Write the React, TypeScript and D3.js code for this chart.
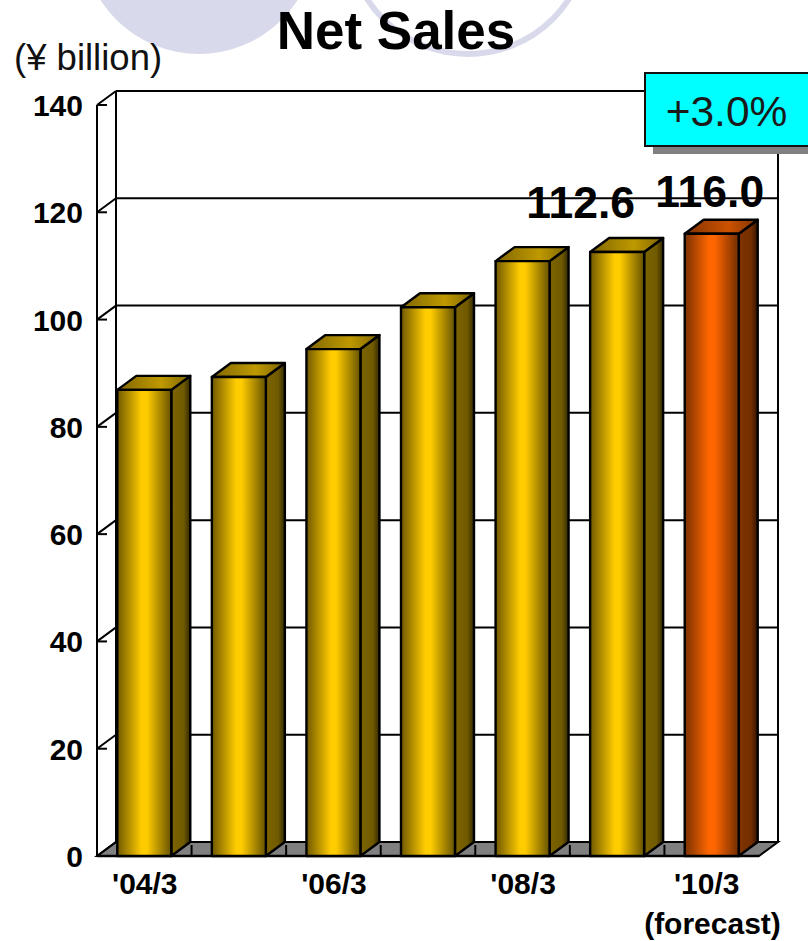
import React from "react";
import * as d3 from "d3";

const categories = ["'04/3", "'05/3", "'06/3", "'07/3", "'08/3", "'09/3", "'10/3"];
const axisLabels = ["'04/3", "'06/3", "'08/3", "'10/3"];
const netSales = [86.9, 89.3, 94.5, 102.3, 110.9, 112.6, 116.0];
const valueTicks = [0, 20, 40, 60, 80, 100, 120, 140];
const labelledYears = ["'09/3", "'10/3"];
const forecastYear = "'10/3";

const WIDTH = 808;
const HEIGHT = 941;
const FONT = "'Liberation Sans', Arial, sans-serif";
const DEPTH_X = 19;
const DEPTH_Y = -14;
const LAVENDER = "#d9d9ec";

const x = d3.scaleBand<string>().domain(categories).range([97, 759]).paddingInner(0.429).paddingOuter(0.2145);
const y = d3.scaleLinear().domain([0, 140]).range([856, 105]);
const step = x.step();

const poly = (pts: [number, number][]) => d3.line()(pts) + "Z";

type Ramp = { id: string; stops: [number, string][] };
const ramps: Ramp[] = [
  { id: "goldFront", stops: [[0, "#6f5800"], [0.45, "#ffcc00"], [0.55, "#ffcc00"], [1, "#665200"]] },
  { id: "goldSide", stops: [[0, "#7d6400"], [0.65, "#705a00"], [1, "#332900"]] },
  { id: "goldTop", stops: [[0, "#806600"], [0.6, "#bf9900"], [1, "#7d6400"]] },
  { id: "orangeFront", stops: [[0, "#7a3100"], [0.45, "#ff6600"], [0.55, "#ff6600"], [1, "#702d00"]] },
  { id: "orangeSide", stops: [[0, "#803300"], [0.65, "#732e00"], [1, "#331400"]] },
  { id: "orangeTop", stops: [[0, "#803300"], [0.6, "#cc5200"], [1, "#803300"]] },
];

export default function App() {
  return (
    <svg
      width={WIDTH}
      height={HEIGHT}
      viewBox={`0 0 ${WIDTH} ${HEIGHT}`}
      style={{ position: "absolute", left: 0, top: 0, display: "block", background: "#fff" }}
    >
      <defs>
        {ramps.map((r) => (
          <linearGradient key={r.id} id={r.id} x1="0" x2="1" y1="0" y2="0">
            {r.stops.map(([o, c]) => (
              <stop key={o} offset={o} stopColor={c} />
            ))}
          </linearGradient>
        ))}
      </defs>

      {/* slide decoration */}
      <circle cx={199} cy={-63} r={117} fill={LAVENDER} />
      <circle cx={468} cy={-66} r={120} fill="#fff" stroke={LAVENDER} strokeWidth={6} />

      <text x={396} y={49} textAnchor="middle" fontFamily={FONT} fontWeight="bold" fontSize={53} fill="#000">
        Net Sales
      </text>
      <text x={14} y={70} fontFamily={FONT} fontSize={36.5} fill="#111">
        (¥ billion)
      </text>

      {/* floor */}
      <path
        d={poly([
          [97, y(0)],
          [97 + DEPTH_X, y(0) + DEPTH_Y],
          [759 + DEPTH_X, y(0) + DEPTH_Y],
          [759, y(0)],
        ])}
        fill="#808080"
        stroke="#000"
        strokeWidth={2}
      />
      {d3.range(1, categories.length).map((i) => (
        <line key={i} x1={97 + i * step} x2={97 + i * step} y1={y(0)} y2={y(0) - 11} stroke="#000" strokeWidth={2} />
      ))}

      {/* back wall grid and side wall */}
      {valueTicks.map((t) => (
        <g key={t} stroke="#000" strokeWidth={2}>
          {t > 0 && (
            <line x1={97 + DEPTH_X} x2={759 + DEPTH_X} y1={y(t) + DEPTH_Y} y2={y(t) + DEPTH_Y} />
          )}
          <line x1={97} x2={97 + DEPTH_X} y1={y(t)} y2={y(t) + DEPTH_Y} />
          <line x1={97} x2={107} y1={y(t)} y2={y(t)} />
        </g>
      ))}
      <line x1={97} x2={97} y1={y(140)} y2={y(0)} stroke="#000" strokeWidth={2} />
      <line x1={116} x2={116} y1={y(140) + DEPTH_Y} y2={y(0) + DEPTH_Y} stroke="#000" strokeWidth={2} />
      <line x1={778} x2={778} y1={y(140) + DEPTH_Y} y2={y(0) + DEPTH_Y} stroke="#000" strokeWidth={2} />
      <line x1={97} x2={759} y1={y(0)} y2={y(0)} stroke="#000" strokeWidth={2.5} />

      {/* bars */}
      {categories.map((c, i) => {
        const left = x(c)!;
        const right = left + x.bandwidth();
        const top = y(netSales[i]);
        const base = y(0);
        const tone = c === forecastYear ? "orange" : "gold";
        return (
          <g key={c} stroke="#000" strokeWidth={2.4} strokeLinejoin="round">
            <path
              d={poly([
                [right, top],
                [right + DEPTH_X, top + DEPTH_Y],
                [right + DEPTH_X, base + DEPTH_Y],
                [right, base],
              ])}
              fill={`url(#${tone}Side)`}
            />
            <path
              d={poly([
                [left, top],
                [left + DEPTH_X, top + DEPTH_Y],
                [right + DEPTH_X, top + DEPTH_Y],
                [right, top],
              ])}
              fill={`url(#${tone}Top)`}
            />
            <rect x={left} y={top} width={x.bandwidth()} height={base - top} fill={`url(#${tone}Front)`} />
          </g>
        );
      })}

      {/* value axis labels */}
      {valueTicks.map((t) => (
        <text key={t} x={83} y={y(t) + 11} textAnchor="end" fontFamily={FONT} fontWeight="bold" fontSize={30} fill="#000">
          {t}
        </text>
      ))}

      {/* year labels */}
      {axisLabels.map((c) => (
        <text
          key={c}
          x={x(c)! + x.bandwidth() / 2 + (c === forecastYear ? -5 : 0.5)}
          y={894}
          textAnchor="middle"
          fontFamily={FONT}
          fontWeight="bold"
          fontSize={30}
          fill="#000"
        >
          {c}
        </text>
      ))}
      <text x={712.5} y={934} textAnchor="middle" fontFamily={FONT} fontWeight="bold" fontSize={30} fill="#000">
        (forecast)
      </text>

      {/* values stated on the last two bars */}
      {labelledYears.map((c) => {
        const v = netSales[categories.indexOf(c)];
        return (
          <text
            key={c}
            x={x(c)! + x.bandwidth() / 2 + (c === forecastYear ? -2 : -36.5)}
            y={y(v) - 34 + (c === forecastYear ? 7 : 0)}
            textAnchor="middle"
            fontFamily={FONT}
            fontWeight="bold"
            fontSize={44.5}
            fill="#000"
          >
            {v.toFixed(1)}
          </text>
        );
      })}

      {/* growth callout */}
      <rect x={653} y={81} width={170} height={73} fill="#808080" />
      <rect x={645} y={73} width={170} height={73} fill="#00ffff" stroke="#111" strokeWidth={2} />
      <text x={726.5} y={125.5} textAnchor="middle" fontFamily={FONT} fontSize={42.5} fill="#1a1a1a">
        +3.0%
      </text>
    </svg>
  );
}
